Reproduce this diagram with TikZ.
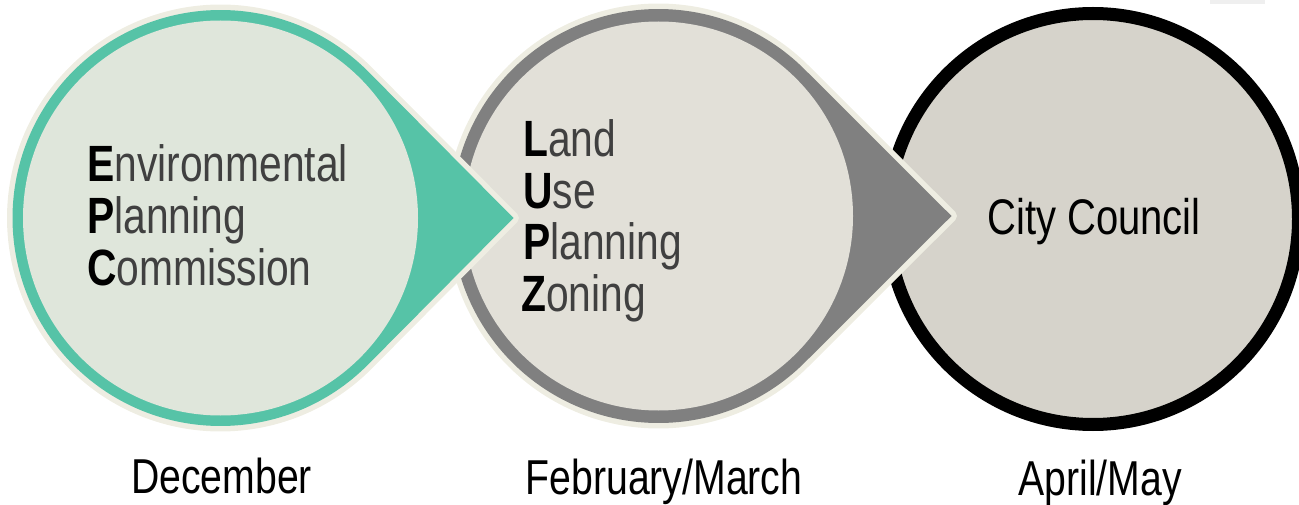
\documentclass[tikz,border=0pt]{standalone}
\usepackage{fontspec}
\setmainfont{Liberation Sans}[FakeStretch=0.8]
\definecolor{ringteal}{HTML}{56C3A7}
\definecolor{fillone}{HTML}{DFE6DB}
\definecolor{ringgray}{HTML}{808080}
\definecolor{filltwo}{HTML}{E2E0D8}
\definecolor{fillthree}{HTML}{D6D3CB}
\definecolor{creamline}{HTML}{EEEDE2}
\definecolor{textgray}{HTML}{404040}
\definecolor{tabgray}{HTML}{EFEFEF}
\begin{document}
\begin{tikzpicture}[x=1pt,y=-1pt,
  halo/.style={preaction={draw=creamline, line width=11pt, line join=round}},
  inner/.style={inner sep=0pt, anchor=base west, text=textgray,
                font=\fontsize{51}{51}\selectfont},
  month/.style={inner sep=0pt, anchor=base, text=black,
                font=\fontsize{49}{49}\selectfont}]
\useasboundingbox (0,0) rectangle (1299,505);

% centres of the three stages and tips of the pointers
\coordinate (c1) at (220.5,218);
\coordinate (t1) at (513.5,218);
\coordinate (c2) at (658.5,216);
\coordinate (t2) at (951.5,216);
\coordinate (c3) at (1093,219);

% small tab in the top right corner
\fill[tabgray] (1210,0) rectangle (1265,4);

% stage 3: City Council
\draw[black, line width=13pt, fill=fillthree] (c3) circle[radius=205.5];

% stage 2: LUPZ, grey drop pointing right
\path[halo, fill=ringgray] (t2) -- ([shift={(c2)}]45.05:207)
  arc[start angle=45.05, end angle=314.95, radius=207] -- cycle;
\fill[filltwo] (c2) circle[radius=194.5];

% stage 1: EPC, teal drop pointing right
\path[halo, fill=ringteal] (t1) -- ([shift={(c1)}]44.77:208)
  arc[start angle=44.77, end angle=315.23, radius=208] -- cycle;
\fill[fillone] (c1) circle[radius=197.5];

% stage names
\node[inner] (epcE) at (87,182) {\textbf{\textcolor{black}{E}}nvironmental};
\node[inner] (epcP) at (87,233.5) {\textbf{\textcolor{black}{P}}lanning};
\node[inner] (epcC) at (87,285) {\textbf{\textcolor{black}{C}}ommission};

\node[inner] (lupL) at (523,157) {\textbf{\textcolor{black}{L}}and};
\node[inner] (lupU) at (523,208.5) {\textbf{\textcolor{black}{U}}se};
\node[inner] (lupP) at (523,260) {\textbf{\textcolor{black}{P}}lanning};
\node[inner] (lupZ) at (521,311.5) {\textbf{\textcolor{black}{Z}}oning};

\node[inner, anchor=base, text=black, font=\fontsize{50}{50}\selectfont]
  (council) at (1094,235) {City Council};

% months
\node[month] (dec) at (221.5,493.3) {December};
\node[month] (feb) at (664,494.5) {February/March};
\node[month] (apr) at (1100,495.5) {April/May};
\end{tikzpicture}
\end{document}
